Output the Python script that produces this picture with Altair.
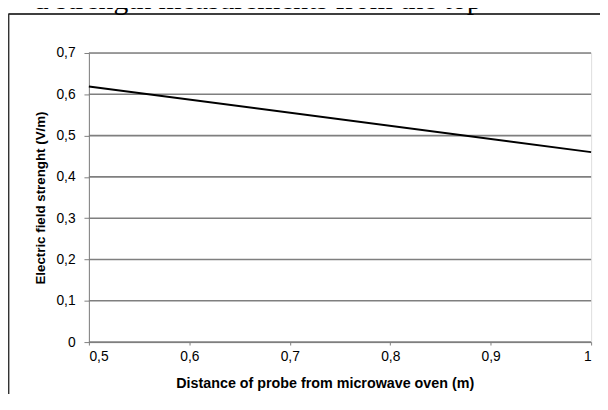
import altair as alt
import pandas as pd

distance = [0.5, 1.0]
field = [0.619, 0.46]
x_ticks = [0.5, 0.6, 0.7, 0.8, 0.9, 1.0]
y_ticks = [0.0, 0.1, 0.2, 0.3, 0.4, 0.5, 0.6, 0.7]
x_title = "Distance of probe from microwave oven (m)"
y_title = "Electric field strenght (V/m)"
caption = "d strength measurements from the top"

df = pd.DataFrame({"distance": distance, "field": field})
grid_df = pd.DataFrame({"tick": y_ticks})

GRAY = "#7f7f7f"

xscale = alt.Scale(domain=[0.5, 1.0], nice=False, zero=False)
yscale = alt.Scale(domain=[0, 0.7], nice=False)

yaxis = alt.Axis(
    values=y_ticks,
    labelExpr="replace(toString(datum.value), '.', ',')",
    grid=False,
    tickSize=5,
    labelPadding=9,
    title=y_title,
    titleFontSize=13.5,
    titleFontWeight="bold",
    titlePadding=9,
    labelFontSize=14,
    domainColor=GRAY,
    tickColor=GRAY,
)

xaxis = alt.Axis(
    values=x_ticks,
    labelExpr="replace(toString(datum.value), '.', ',')",
    grid=False,
    tickSize=3,
    labelPadding=5,
    title=x_title,
    titleFontSize=14.5,
    titleFontWeight="bold",
    titleX=239,
    titleY=46,
    titleBaseline="alphabetic",
    titleAlign="center",
    labelFontSize=14,
    domainColor=GRAY,
    tickColor=GRAY,
)

grid = alt.Chart(grid_df).mark_rule(color=GRAY, strokeWidth=1.6).encode(
    y=alt.Y("tick:Q", scale=yscale, axis=yaxis, title=y_title)
)

line = alt.Chart(df).mark_line(color="black", strokeWidth=2, clip=False).encode(
    x=alt.X("distance:Q", scale=xscale, axis=xaxis, title=x_title),
    y=alt.Y("field:Q", scale=yscale, axis=yaxis, title=y_title),
)

frame_top = alt.Chart(df).mark_rule(color="#333333", strokeWidth=1.5).encode(
    x=alt.value(-81.5), x2=alt.value(530), y=alt.value(-39.5)
)
frame_left = alt.Chart(df).mark_rule(color="#333333", strokeWidth=1.5).encode(
    x=alt.value(-81.5), y=alt.value(-39.5), y2=alt.value(360)
)

cap = alt.Chart(pd.DataFrame({"t": [caption]})).mark_text(
    font="Liberation Serif", fontSize=30, align="right", baseline="alphabetic", color="black"
).encode(text="t:N", x=alt.value(398), y=alt.value(-45))

chart = alt.layer(grid, line, frame_top, frame_left, cap).properties(
    width=509,
    height=293,
    autosize=alt.AutoSizeParams(type="none"),
    padding={"left": 82, "top": 43, "right": 9, "bottom": 50},
).configure_view(stroke=GRAY, strokeWidth=1.6).configure_axis(
    domainWidth=1.6,
    tickWidth=1.5,
    labelColor="#111111",
    titleColor="#111111",
    labelFont="Liberation Sans",
    titleFont="Liberation Sans",
).configure(background="white")

chart.save("out.html", embed_options={"renderer": "svg", "actions": False})
